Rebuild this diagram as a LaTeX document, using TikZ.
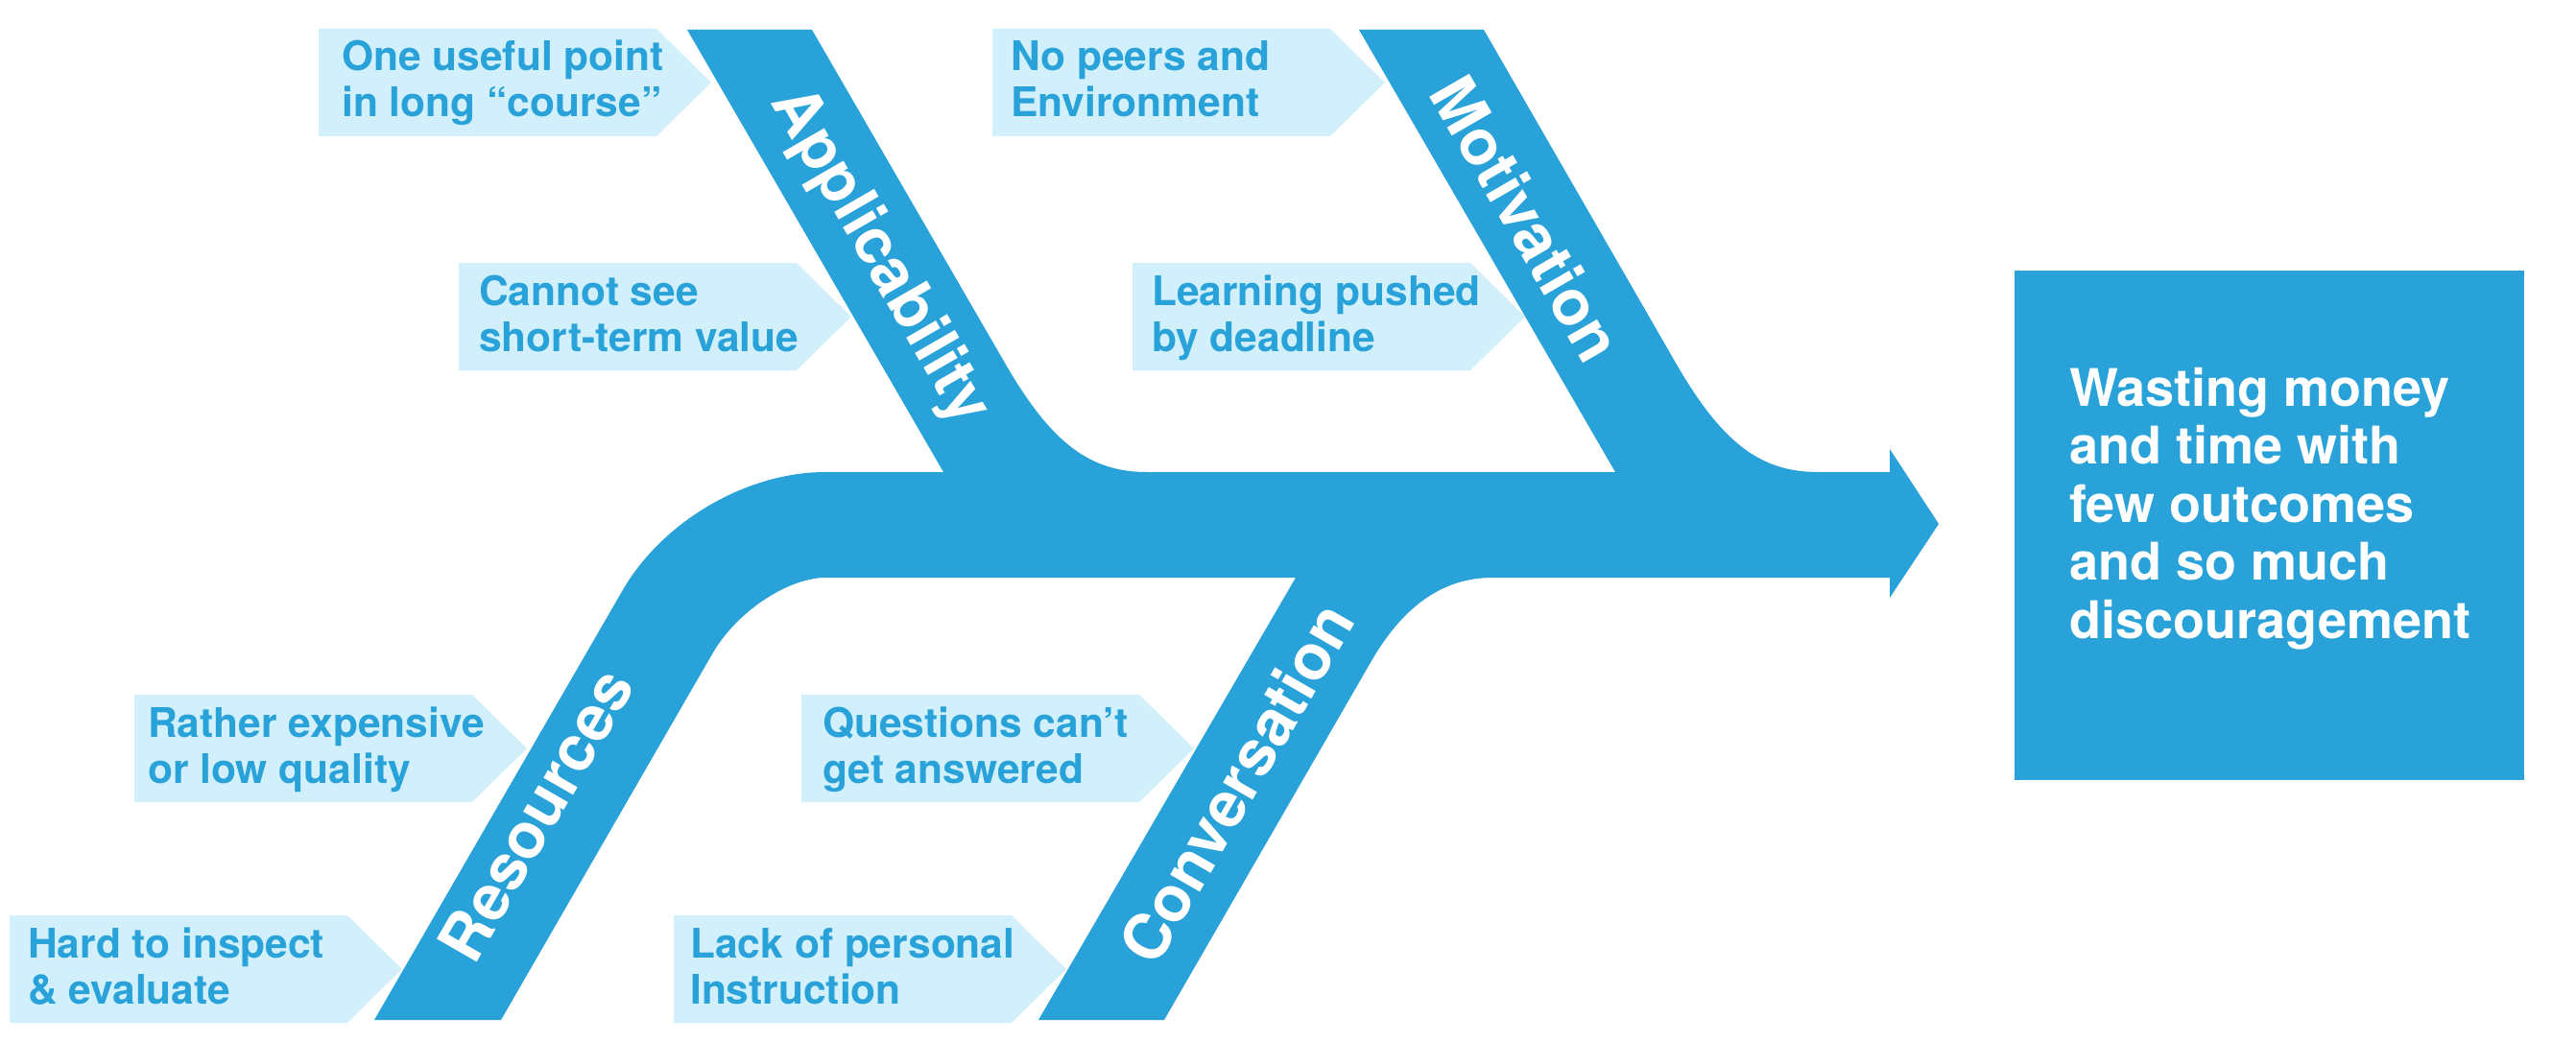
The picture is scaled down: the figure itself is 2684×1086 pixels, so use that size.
\documentclass[tikz,border=0pt]{standalone}
\usepackage{fontspec}
\setmainfont{TeX Gyre Heros}
\definecolor{bone}{HTML}{28A2D8}
\definecolor{boxfill}{HTML}{D2F0FC}
\tikzset{
  bonefill/.style={fill=bone},
  causefill/.style={fill=boxfill},
  causetext/.style={text=bone, font=\fontsize{42.5}{48}\selectfont\bfseries, inner sep=0pt, anchor=base west},
  bonelabel/.style={text=white, font=\fontsize{66}{72}\selectfont\bfseries, inner sep=0pt},
  effectbox/.style={fill=bone, minimum width=531pt, minimum height=531pt, inner sep=0pt},
  effecttext/.style={text=white, font=\fontsize{54}{60.5}\selectfont\bfseries, inner sep=0pt, anchor=base west}
}
\newcommand{\cbox}[6]{%
  \fill[causefill] (#1,#2) -- ({#1+352},#2) -- ({#1+409},{#2+56}) -- ({#1+352},{#2+112}) -- (#1,{#2+112}) -- cycle;
  \node[causetext] (#4) at ({#1+#3},{#2+44}) {\vtop{\hbox{#5}\hbox{#6}}};
}
\begin{document}
\begin{tikzpicture}[x=1pt,y=-1pt]
\useasboundingbox (0,0) rectangle (2684,1086);
% fishbone body
\fill[bonefill] (390,1063) -- (650,613) .. controls (693,541) and (780,492) .. (860,492)
  -- (983,492) -- (716,31) -- (846,31) -- (1048,380) .. controls (1095,461) and (1135,492) .. (1195,492)
  -- (1683,492) -- (1416,31) -- (1546,31) -- (1747,380) .. controls (1794,461) and (1834,492) .. (1894,492)
  -- (1969,492) -- (1969,468) -- (2020,546) -- (1969,623) -- (1969,602)
  -- (1555,602) .. controls (1500,602) and (1460,636) .. (1430,687)
  -- (1213,1063) -- (1082,1063) -- (1350,602)
  -- (860,602) .. controls (825,602) and (771,633) .. (743,680)
  -- (522,1063) -- cycle;
% cause boxes
\cbox{332}{30}{24}{c1}{One useful point}{in long “course”}
\cbox{478}{274}{21}{c2}{Cannot see}{short-term value}
\cbox{1034}{30}{19}{c3}{No peers and}{Environment}
\cbox{1180}{274}{20}{c4}{Learning pushed}{by deadline}
\cbox{140}{724}{14}{c5}{Rather expensive}{or low quality}
\cbox{10}{954}{19}{c6}{Hard to inspect}{\& evaluate}
\cbox{835}{724}{22}{c7}{Questions can’t}{get answered}
\cbox{702}{954}{17}{c8}{Lack of personal}{Instruction}
% bone labels
\node[bonelabel, rotate=-60] (lapp) at (916,268) {Applicability};
\node[bonelabel, rotate=-60] (lmot) at (1591,228) {Motivation};
\node[bonelabel, rotate=60] (lres) at (558,849) {Resources};
\node[bonelabel, rotate=60] (lcon) at (1288,816) {Conversation};
% effect
\node[effectbox] (effect) at (2364.5,547.5) {};
\node[effecttext] (efftext) at (2156,423) {\vtop{\hbox{Wasting money}\hbox{and time with}\hbox{few outcomes}\hbox{and so much}\hbox{discouragement}}};
\end{tikzpicture}
\end{document}
